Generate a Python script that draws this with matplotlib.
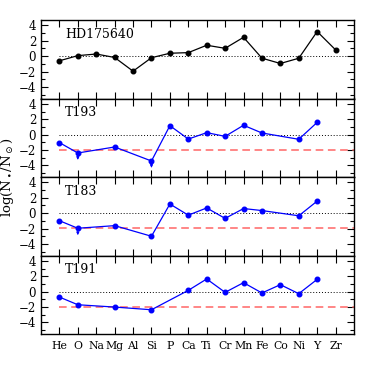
import numpy as np
import matplotlib.pyplot as plt
from matplotlib.ticker import MultipleLocator

elementos = ['He', 'O', 'Na', 'Mg', 'Al', 'Si', 'P', 'Ca', 'Ti', 'Cr',
             'Mn', 'Fe', 'Co', 'Ni', 'Y', 'Zr']

# HD175640 (todos los elementos)
hd_valores = [-0.6, 0.07, 0.28, -0.17, -1.95, -0.2, 0.38, 0.46, 1.42, 1.02,
              2.45, -0.26, -0.95, -0.27, 3.2, 0.82]

# T193
t193_elem = ['He', 'O', 'Mg', 'Si', 'P', 'Ca', 'Ti', 'Cr', 'Mn', 'Fe', 'Ni', 'Y']
t193_val = [-1.03, -2.38, -1.6, -3.42, 1.17, -0.57, 0.26, -0.22, 1.22, 0.22, -0.6, 1.6]
t193_limites = ['O', 'Si']

# T183
t183_elem = ['He', 'O', 'Mg', 'Si', 'P', 'Ca', 'Ti', 'Cr', 'Mn', 'Fe', 'Ni', 'Y']
t183_val = [-0.98, -1.96, -1.62, -3.0, 1.19, -0.26, 0.68, -0.68, 0.6, 0.34, -0.34, 1.57]
t183_limites = ['O']

# T191
t191_elem = ['He', 'O', 'Mg', 'Si', 'Ca', 'Ti', 'Cr', 'Mn', 'Fe', 'Co', 'Ni', 'Y']
t191_val = [-0.7, -1.7, -2.0, -2.35, 0.17, 1.65, -0.09, 1.17, -0.17, 0.91, -0.26, 1.6]
t191_limites = []

nivel_rojo = [None, -1.95, -1.9, -1.95]

plt.rcParams['font.family'] = ['DejaVu Serif']
plt.rcParams['mathtext.fontset'] = 'dejavuserif'

fig = plt.figure(figsize=(3.74, 3.74), dpi=100)
left, right = 41 / 374, 354 / 374
top, bottom = 1 - 20 / 374, 1 - 334 / 374
alto = (top - bottom) / 4

paneles = [
    ('HD175640', elementos, hd_valores, [], 'black'),
    ('T193', t193_elem, t193_val, t193_limites, 'blue'),
    ('T183', t183_elem, t183_val, t183_limites, 'blue'),
    ('T191', t191_elem, t191_val, t191_limites, 'blue'),
]

xpos = {e: i for i, e in enumerate(elementos)}

for k, (nombre, elem, val, lim, color) in enumerate(paneles):
    ax = fig.add_axes([left, top - (k + 1) * alto, right - left, alto])
    x = [xpos[e] for e in elem]
    ax.plot([0, 16], [0, 0], ls=(0, (1, 2)), color='black', lw=0.7)
    if nivel_rojo[k] is not None:
        ax.plot([0, 16], [nivel_rojo[k]] * 2, ls=(0, (5, 3)), color='#ff6666', lw=1.1)
    ax.plot(x, val, '-o', color=color, lw=0.9, ms=3.3)
    for e in lim:
        xi = xpos[e]
        yi = val[elem.index(e)]
        ax.annotate('', xy=(xi, yi - 0.9), xytext=(xi, yi),
                    arrowprops=dict(arrowstyle='-|>', color=color, lw=0.7,
                                    mutation_scale=4, shrinkA=0, shrinkB=0),
                    zorder=5)
    ax.text(0.3, 3.7, nombre, fontsize=9, va='top', ha='left')
    ax.set_xlim(-1, 16)
    ax.set_ylim(-5.5, 4.7)
    ax.yaxis.set_minor_locator(MultipleLocator(1))
    ax.set_yticks([-4, -2, 0, 2, 4])
    ax.set_yticklabels(['\u22124', '\u22122', '0', '2', '4'])
    ax.set_xticks(range(len(elementos)))
    ax.tick_params(which='both', direction='in', top=True, right=True, labelsize=8.5)
    ax.tick_params(which='major', length=5, width=0.8)
    ax.tick_params(which='minor', length=3, width=0.8)
    if k == 3:
        ax.set_xticklabels(elementos, fontsize=7.8)
        ax.tick_params(axis='x', pad=5)
    else:
        ax.set_xticklabels([])
    for s in ax.spines.values():
        s.set_linewidth(1.0)

fig.text(0.021, (top + bottom) / 2, r'log(N$_\bullet$/N$_\odot$)', rotation=90,
         ha='center', va='center', fontsize=9.5)

fig.savefig('out.png', dpi=100)
